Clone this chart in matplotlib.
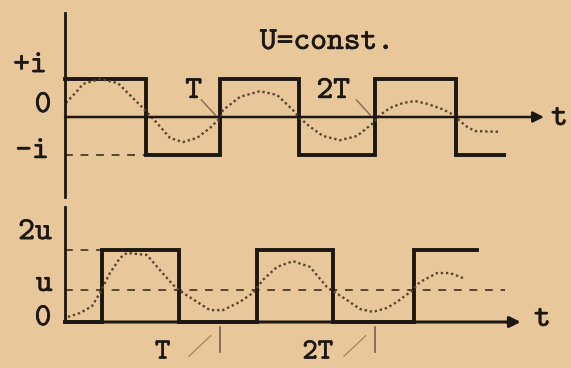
import matplotlib
matplotlib.use("Agg")
import matplotlib.pyplot as plt
import matplotlib.patheffects as pe

# time in units of the period T, amplitudes in units of i (top) and u (bottom)
top_edges = [0.0, 0.52, 1.0, 1.51, 2.0, 2.52, 2.83]
top_levels = [1, -1, 1, -1, 1, -1, -1]

top_curve_t = [0.006, 0.084, 0.116, 0.226, 0.342, 0.497, 0.594, 0.677, 0.761, 0.852,
               0.935, 1.0, 1.019, 1.129, 1.258, 1.368, 1.471, 1.516, 1.581, 1.665,
               1.774, 1.884, 1.987, 2.032, 2.097, 2.181, 2.258, 2.342, 2.432, 2.484,
               2.548, 2.594, 2.645, 2.794]
top_curve_y = [0.37, 0.71, 0.87, 1.0, 0.89, 0.26, -0.16, -0.55, -0.66, -0.55,
               -0.29, -0.03, 0.18, 0.53, 0.68, 0.58, 0.18, -0.03, -0.26, -0.50,
               -0.61, -0.50, -0.16, 0.05, 0.24, 0.37, 0.42, 0.34, 0.21, 0.11,
               -0.10, -0.26, -0.37, -0.39]

bot_edges = [0.0, 0.239, 0.735, 1.239, 1.729, 2.252, 2.658]
bot_levels = [0, 2, 0, 2, 0, 2, 2]
bot_mean = 0.89

bot_curve_t = [0.019, 0.097, 0.174, 0.226, 0.290, 0.355, 0.400, 0.529, 0.613, 0.697,
               0.761, 0.852, 0.935, 1.019, 1.129, 1.213, 1.277, 1.368, 1.471, 1.581,
               1.690, 1.819, 1.903, 1.987, 2.077, 2.142, 2.226, 2.290, 2.400, 2.484,
               2.568]
bot_curve_y = [0.14, 0.25, 0.44, 0.81, 1.36, 1.78, 1.92, 1.86, 1.44, 1.03,
               0.81, 0.56, 0.33, 0.33, 0.56, 0.81, 1.17, 1.53, 1.69, 1.53,
               0.97, 0.61, 0.36, 0.28, 0.39, 0.56, 0.83, 1.11, 1.36, 1.36,
               1.22]

period_marks = [1, 2]
period_names = ["T", "2T"]

INK = "#1c1712"
PENCIL = "#574530"
PAPER = "#e8c79a"
FONT = ["cmtt10", "DejaVu Sans Mono"]

fig = plt.figure(figsize=(5.71, 3.68), dpi=100, facecolor=PAPER)
ax_i = fig.add_axes([0, 166 / 368, 1, 202 / 368])
ax_u = fig.add_axes([0, 0, 1, 166 / 368])

# 155 px per period, origin 65 px from the left edge
xl = (-65 / 155, (571 - 65) / 155)
ax_i.set_xlim(*xl)
ax_u.set_xlim(*xl)
ax_i.set_ylim((117 - 202) / 38, 117 / 38)
ax_u.set_ylim((322 - 368) / 36, (322 - 202) / 36)

for ax in (ax_i, ax_u):
    ax.set_facecolor("none")
    for s in ("top", "right", "bottom"):
        ax.spines[s].set_visible(False)
    ax.spines["left"].set_position(("data", 0))
    ax.spines["left"].set_color(INK)
    ax.spines["left"].set_linewidth(2.0)
    ax.set_xticks([])
    ax.set_yticks([])

ax_i.spines["left"].set_bounds(-2.1, 2.74)
ax_u.spines["left"].set_bounds(0, 3.19)

# time axes with arrows
ax_i.annotate("", xy=(3.09, 0), xytext=(0, 0),
              arrowprops=dict(arrowstyle="-|>", lw=1.8, color=INK, mutation_scale=16,
                              shrinkA=0, shrinkB=0))
ax_u.annotate("", xy=(2.94, 0), xytext=(0, 0),
              arrowprops=dict(arrowstyle="-|>", lw=2.2, color=INK, mutation_scale=16,
                              shrinkA=0, shrinkB=0))

# current: square wave, -i guide and smoothed response
ax_i.plot([0, top_edges[1]], [-1, -1], color=PENCIL, lw=1.4, ls=(0, (4, 4)))
ax_i.plot(top_edges, top_levels, drawstyle="steps-post", color=INK, lw=2.8,
          solid_joinstyle="miter")
ax_i.plot(top_curve_t, top_curve_y, color=PENCIL, lw=1.7, ls=(0, (1, 1.2)))

# voltage: square wave, 2u and mean guides and smoothed response
ax_u.plot([0, bot_edges[1]], [2, 2], color=PENCIL, lw=1.4, ls=(0, (4, 4)))
ax_u.plot([0, 2.84], [bot_mean, bot_mean], color=PENCIL, lw=1.4, ls=(0, (4, 4)))
ax_u.plot(bot_edges, bot_levels, drawstyle="steps-post", color=INK, lw=2.8,
          solid_joinstyle="miter")
ax_u.plot(bot_curve_t, bot_curve_y, color=PENCIL, lw=1.7, ls=(0, (1, 1.2)))

# typewriter letters are a bit heavier than cmtt
bold = [pe.withStroke(linewidth=0.4, foreground=INK)]
txt = dict(family=FONT, fontsize=23, color=INK, ha="center", va="center",
           path_effects=bold)

ax_i.text(-0.226, 1.34, "+i", **txt)
ax_i.text(-0.142, 0.29, "0", **txt)
ax_i.text(-0.213, -0.92, "-i", **txt)
ax_i.text(1.69, 1.95, "U=const.", **txt)
ax_i.text(3.19, -0.05, "t", **txt)

ax_u.text(-0.194, 2.47, "2u", **txt)
ax_u.text(-0.135, 1.03, "u", **txt)
ax_u.text(-0.142, 0.08, "0", **txt)
ax_u.text(3.08, 0.06, "t", **txt)

# period labels with pencil leaders
for m, name in zip(period_marks, period_names):
    ax_i.text(m - 0.17 - 0.1 * (m - 1), 0.66, name, **txt)
    ax_i.plot([m - 0.12, m - 0.03], [0.45, 0.05], color=PENCIL, lw=1.0, alpha=0.7)

    ax_u.text(m - 0.37, -0.86, name, **dict(txt, fontsize=21))
    ax_u.plot([m - 0.2, m - 0.06], [-0.95, -0.38], color=PENCIL, lw=0.9, alpha=0.5)
    ax_u.plot([m, m], [-0.14, -0.83], color=PENCIL, lw=1.2, alpha=0.8)

fig.savefig("out.png", dpi=100, facecolor=PAPER)
